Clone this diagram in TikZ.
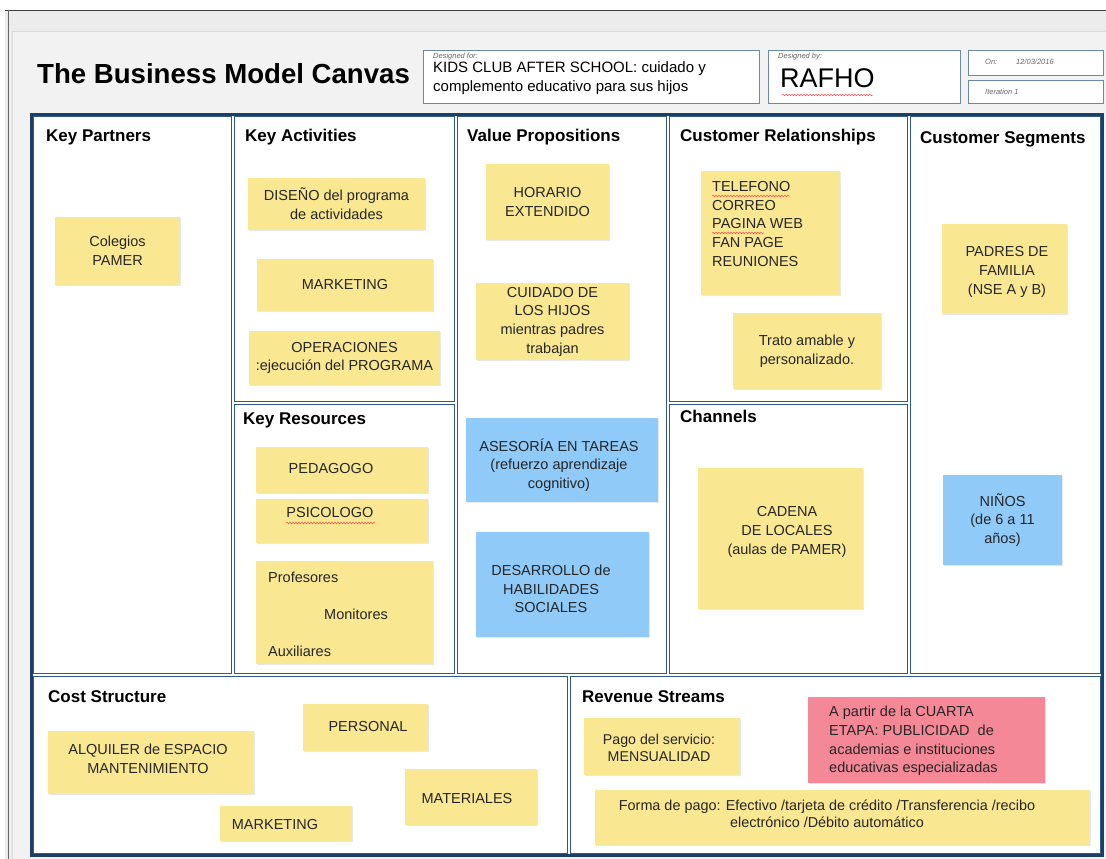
\documentclass[tikz,border=0pt]{standalone}
\usepackage{fontspec}
\setmainfont{Liberation Sans}
\usepackage{xcolor}
\usepackage{tikz}
\usetikzlibrary{positioning}
\usetikzlibrary{shadows}
\usetikzlibrary{decorations.pathmorphing}
\definecolor{wingray}{HTML}{ECECEC}
\definecolor{pagegray}{HTML}{F2F2F2}
\definecolor{framenavy}{HTML}{1C3F68}
\definecolor{cellblue}{HTML}{2E5A88}
\definecolor{headblue}{HTML}{6A88AA}
\definecolor{noteyellow}{RGB}{250,231,145}
\definecolor{noteblue}{RGB}{143,202,248}
\definecolor{notepink}{RGB}{245,136,150}
\tikzset{
    cell/.style = {draw=cellblue, line width=1.3pt, fill=white, anchor=north west, inner sep=0pt},
    heading/.style = {anchor=base west, inner sep=0pt, font=\fontsize{17}{19}\selectfont\bfseries},
    headbox/.style = {draw=headblue, line width=1pt, fill=white, anchor=north west, inner sep=0pt},
    smalllabel/.style = {anchor=west, inner sep=0pt, text=black!60, font=\fontsize{7.5}{9}\selectfont\itshape},
    note/.style = {fill=noteyellow, inner sep=0pt, align=center, text=black!85, font=\fontsize{14.5}{18.7}\selectfont, drop shadow={opacity=0.18, shadow xshift=1.2pt, shadow yshift=-1.2pt}},
    bluenote/.style = {note, fill=noteblue},
    pinknote/.style = {note, fill=notepink},
    ntext/.style = {inner sep=0pt, align=center, text=black!85, font=\fontsize{14.5}{18.7}\selectfont},
    squiggle/.style = {draw=red!70, line width=0.5pt, decorate, decoration={snake, segment length=3pt, amplitude=0.8pt}},
}
\begin{document}
\begin{tikzpicture}[x=1pt, y=-1pt]
  \useasboundingbox (0,0) rectangle (1106,859);
  % window
  \fill[white] (0,0) rectangle (1106,859);
  \fill[wingray] (5,10) rectangle (1106,859);
  \draw[black!75, line width=1pt] (5,10.5) -- (1106,10.5);
  \draw[black!60, line width=1pt] (8.5,10) -- (8.5,859);
  \fill[pagegray] (12,31) rectangle (1106,859);
  \draw[black!15] (12,31) -- (1106,31) (12,31) -- (12,859);

  % header
  \node[anchor=west, inner sep=0pt, font=\fontsize{27.6}{31}\selectfont\bfseries] (title) at (37,74) {The Business Model Canvas};
  \node[headbox, minimum width=336pt, minimum height=53pt] (dfor) at (423,50) {};
  \node[smalllabel] (dforlbl) at (433,57) {Designed for:};
  \node[anchor=north west, inner sep=0pt, align=left, font=\fontsize{15}{19}\selectfont] (dfortxt) at (433,61)
    {KIDS CLUB AFTER SCHOOL: cuidado y\\complemento educativo para sus hijos};
  \node[headbox, minimum width=192pt, minimum height=53pt] (dby) at (768,50) {};
  \node[smalllabel] (dbylbl) at (778,57) {Designed by:};
  \node[anchor=west, inner sep=0pt, font=\fontsize{27}{30}\selectfont] (rafho) at (780,78) {RAFHO};
  \node[headbox, minimum width=135pt, minimum height=25pt] (don) at (968,50) {};
  \node[smalllabel] (donlbl) at (985,62) {On:};
  \node[smalllabel] (date) at (1016,62) {12/03/2016};
  \node[headbox, minimum width=135pt, minimum height=23pt] (iter) at (968,80) {};
  \node[smalllabel] (iterlbl) at (985,92) {Iteration 1};
  \draw[squiggle] (782,95) -- (873,95);

  % canvas cells
  \fill[white] (31,114) rectangle (1102,855);
  \node[cell, minimum width=198pt, minimum height=557pt] (kp) at (33,116) {};
  \node[cell, minimum width=220pt, minimum height=285pt] (ka) at (234,116) {};
  \node[cell, minimum width=220pt, minimum height=269pt] (kr) at (234,404) {};
  \node[cell, minimum width=209pt, minimum height=557pt] (vp) at (457,116) {};
  \node[cell, minimum width=238pt, minimum height=285pt] (cr) at (669,116) {};
  \node[cell, minimum width=238pt, minimum height=269pt] (ch) at (669,404) {};
  \node[cell, minimum width=190pt, minimum height=557pt] (cs) at (910,116) {};
  \node[cell, minimum width=534pt, minimum height=177pt] (cst) at (33,676) {};
  \node[cell, minimum width=530pt, minimum height=177pt] (rs) at (570,676) {};
  \draw[framenavy, line width=3pt] (31,114) rectangle (1102,855);

  \node[heading] (kph) at (46,141) {Key Partners};
  \node[heading] (kah) at (245,141) {Key Activities};
  \node[heading] (krh) at (243,424) {Key Resources};
  \node[heading] (vph) at (467,141) {Value Propositions};
  \node[heading] (crh) at (680,141) {Customer Relationships};
  \node[heading] (chh) at (680,422) {Channels};
  \node[heading] (csh) at (920,143) {Customer Segments};
  \node[heading] (csth) at (48,702) {Cost Structure};
  \node[heading] (rsh) at (582,702) {Revenue Streams};

  % key partners
  \node[note, minimum width=125pt, minimum height=68pt] (kpcol) at (117.5,251) {Colegios\\PAMER};

  % key activities
  \node[note, minimum width=177pt, minimum height=52pt] (kadis) at (336.5,204) {DISEÑO del programa\\de actividades};
  \node[note, minimum width=176pt, minimum height=52pt] (kamkt) at (345,285) {MARKETING};
  \node[note, minimum width=191pt, minimum height=54pt] (kaops) at (344.5,358) {OPERACIONES\\:ejecución del PROGRAMA};

  % key resources
  \node[note, minimum width=172pt, minimum height=46pt] (krped) at (342,470) {};
  \node[ntext] (krpedtxt) at (331,469) {PEDAGOGO};
  \node[note, minimum width=172pt, minimum height=44pt] (krpsi) at (342,521) {};
  \node[ntext] (krpsitxt) at (330,513) {PSICOLOGO};
  \draw[squiggle] (286,523) -- (375,523);
  \node[note, minimum width=177pt, minimum height=103pt] (krstaff) at (344.5,612.5) {};
  \node[ntext, anchor=west] (krprof) at (268,577) {Profesores};
  \node[ntext, anchor=west] (krmon) at (324,614) {Monitores};
  \node[ntext, anchor=west] (kraux) at (268,651) {Auxiliares};

  % value propositions
  \node[note, minimum width=123pt, minimum height=76pt] (vphor) at (547.5,202) {HORARIO\\EXTENDIDO};
  \node[note, minimum width=153pt, minimum height=77pt] (vpcui) at (552.5,321.5) {CUIDADO DE\\LOS HIJOS\\mientras padres\\trabajan};
  \node[bluenote, minimum width=192pt, minimum height=84pt] (vpase) at (562,460) {};
  \node[ntext] (vpasetxt) at (559,465) {ASESORÍA EN TAREAS\\(refuerzo aprendizaje\\cognitivo)};
  \node[bluenote, minimum width=173pt, minimum height=105pt] (vpdes) at (562.5,584.5) {};
  \node[ntext] (vpdestxt) at (551,589) {DESARROLLO de\\HABILIDADES\\SOCIALES};

  % customer relationships
  \node[note, minimum width=139pt, minimum height=124pt] (crtel) at (770.5,233) {};
  \node[ntext, align=left, anchor=north west] (crteltxt) at (712,181) {TELEFONO\\CORREO\\PAGINA WEB\\FAN PAGE\\REUNIONES};
  \draw[squiggle] (712,196) -- (790,196);
  \draw[squiggle] (712,233) -- (764,233);
  \node[note, minimum width=148pt, minimum height=76pt] (crtrato) at (807,351) {Trato amable y\\personalizado.};

  % channels
  \node[note, minimum width=165pt, minimum height=141pt] (chcad) at (780.5,538.5) {};
  \node[ntext] (chcadtxt) at (787,532) {CADENA\\DE LOCALES\\(aulas de PAMER)};

  % customer segments
  \node[note, minimum width=125pt, minimum height=90pt] (cspad) at (1004.5,269) {};
  \node[ntext] (cspadtxt) at (1007,272) {PADRES DE\\FAMILIA\\(NSE A y B)};
  \node[bluenote, minimum width=119pt, minimum height=90pt] (csnin) at (1002.5,520) {NIÑOS\\(de 6 a 11\\años)};

  % cost structure
  \node[note, minimum width=206pt, minimum height=63pt] (cstalq) at (151,762.5) {};
  \node[ntext] (cstalqtxt) at (148,759) {ALQUILER de ESPACIO\\MANTENIMIENTO};
  \node[note, minimum width=125pt, minimum height=47pt] (cstper) at (365.5,727.5) {};
  \node[ntext] (cstpertxt) at (368,727) {PERSONAL};
  \node[note, minimum width=132pt, minimum height=35pt] (cstmkt) at (286,823.5) {};
  \node[ntext] (cstmkttxt) at (275,825) {MARKETING};
  \node[note, minimum width=132pt, minimum height=56pt] (cstmat) at (471,797) {};
  \node[ntext] (cstmattxt) at (467,799) {MATERIALES};

  % revenue streams
  \node[note, minimum width=156pt, minimum height=57pt] (rspago) at (662,746.5) {};
  \node[ntext, font=\fontsize{14.2}{16.5}\selectfont] (rspagotxt) at (659,748) {Pago del servicio:\\MENSUALIDAD};
  \node[pinknote, minimum width=237pt, minimum height=86pt] (rspub) at (926,740) {};
  \node[ntext, align=left, anchor=west] (rspubtxt) at (829,741)
    {A partir de la CUARTA\\ETAPA: PUBLICIDAD\ \ de\\academias e instituciones\\educativas especializadas};
  \node[note, minimum width=495pt, minimum height=55pt] (rsforma) at (842.5,817.5) {};
  \node[ntext, font=\fontsize{14.4}{17.5}\selectfont] (rsformatxt) at (827,814)
    {Forma de pago: Efectivo /tarjeta de crédito /Transferencia /recibo\\electrónico /Débito automático};
\end{tikzpicture}
\end{document}
